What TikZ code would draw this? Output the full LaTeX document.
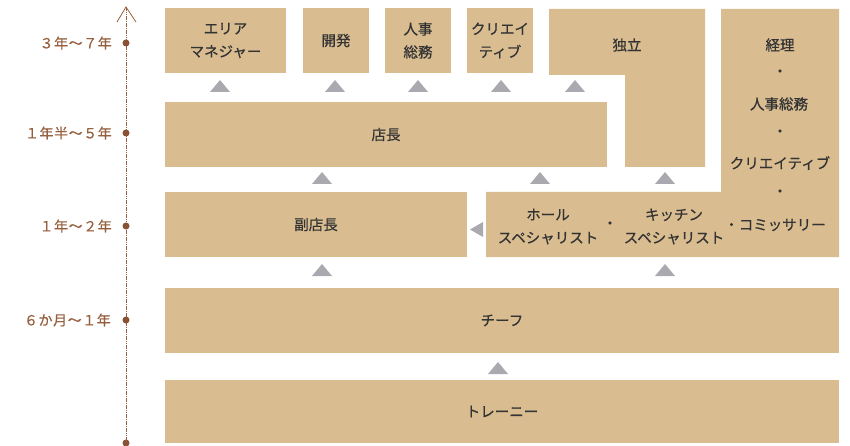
\documentclass[tikz,border=0pt]{standalone}
\usepackage{fontspec}
\newfontfamily\jp{Noto Sans CJK JP}[FakeBold=0.6]
\newfontfamily\jpyr{Noto Sans CJK JP}[FakeBold=0.5, LetterSpace=4]
\definecolor{boxtan}{HTML}{D9BD91}
\definecolor{txt}{HTML}{333333}
\definecolor{trigray}{HTML}{A9A9AF}
\definecolor{brn}{HTML}{96603F}
\definecolor{dotbrn}{HTML}{8A5234}
\newcommand{\uptri}[2]{\fill[tmark] (#1-10,#2+6) -- (#1+10,#2+6) -- (#1,#2-6) -- cycle;}
\begin{document}
\begin{tikzpicture}[x=1pt,y=-1pt,
  box/.style={fill=boxtan, draw=none, inner sep=0pt, anchor=center,
    font=\jp\fontsize{14.5}{23}\selectfont, text=txt, align=center},
  lbl/.style={font=\jp\fontsize{14.5}{23}\selectfont, text=txt, align=center, inner sep=0pt},
  yr/.style={font=\jpyr\fontsize{14}{16}\selectfont, text=brn, anchor=east, inner sep=0pt},
  tmark/.style={fill=trigray},
  tline/.style={brn, line width=0.9pt, dash pattern=on 1.6pt off 0.7pt},
  tdot/.style={circle, fill=dotbrn, inner sep=0pt, minimum size=7pt},
  ]
\useasboundingbox (0,0) rectangle (850,446);

% top row
\node[box, minimum width=121pt, minimum height=65pt] (area) at (225.5,40.5) {エリア\\マネジャー};
\node[box, minimum width=66pt, minimum height=65pt] (dev) at (336,40.5) {開発};
\node[box, minimum width=66pt, minimum height=65pt] (hr) at (418,40.5) {人事\\総務};
\node[box, minimum width=66pt, minimum height=65pt] (cre) at (500,40.5) {クリエイ\\ティブ};

% independent (L-shape)
\fill[boxtan] (549,9) -- (705,9) -- (705,167) -- (625,167) -- (625,75) -- (549,75) -- cycle;
\node[lbl] (indep) at (627,45) {独立};

% right tall shape
\fill[boxtan] (721,9) -- (839,9) -- (839,257) -- (486,257) -- (486,192) -- (721,192) -- cycle;
\node[lbl] (keiri) at (780,45) {経理};
\node[lbl] (d1) at (780,73) {・};
\node[lbl] (jinji) at (779,104) {人事総務};
\node[lbl] (d2) at (780,133) {・};
\node[lbl] (cre2) at (780,163) {クリエイティブ};
\node[lbl] (d3) at (780,193) {・};
\node[lbl] (comm) at (775,225) {・コミッサリー};
\node[lbl] (hall) at (548,226.5) {ホール\\スペシャリスト};
\node[lbl] (dmid) at (610,225) {・};
\node[lbl] (kitchen) at (674,226.5) {キッチン\\スペシャリスト};

% middle rows
\node[box, minimum width=442pt, minimum height=65pt] (tencho) at (386,134.5) {店長};
\node[box, minimum width=302pt, minimum height=65pt] (fuku) at (316,224.5) {副店長};
\node[box, minimum width=674pt, minimum height=65pt] (chief) at (502,320.5) {チーフ};
\node[box, minimum width=674pt, minimum height=63pt] (trainee) at (502,411.5) {トレーニー};

% triangles
\uptri{220}{86}
\uptri{335}{86}
\uptri{418}{86}
\uptri{501}{86}
\uptri{575}{86}
\uptri{322}{178}
\uptri{540}{178}
\uptri{665}{178}
\uptri{322}{270}
\uptri{665}{270}
\uptri{498}{368}
\fill[tmark] (470,229.5) -- (483,222) -- (483,237) -- cycle;

% timeline
\coordinate (ttop) at (126,7);
\node[tdot] (t5) at (126,443) {};
\draw[tline] (ttop) -- (t5.center);
\draw[brn, line width=0.8pt] (117,22) -- (ttop) -- (136,22);
\node[tdot] (t1) at (126,43) {};
\node[tdot] (t2) at (126,133) {};
\node[tdot] (t3) at (126,226) {};
\node[tdot] (t4) at (126,320) {};
\node[yr] (y1) at (112,43) {３年〜７年};
\node[yr] (y2) at (112,133) {１年半〜５年};
\node[yr] (y3) at (112,226) {１年〜２年};
\node[yr] (y4) at (111,320) {６か月〜１年};
\end{tikzpicture}
\end{document}
